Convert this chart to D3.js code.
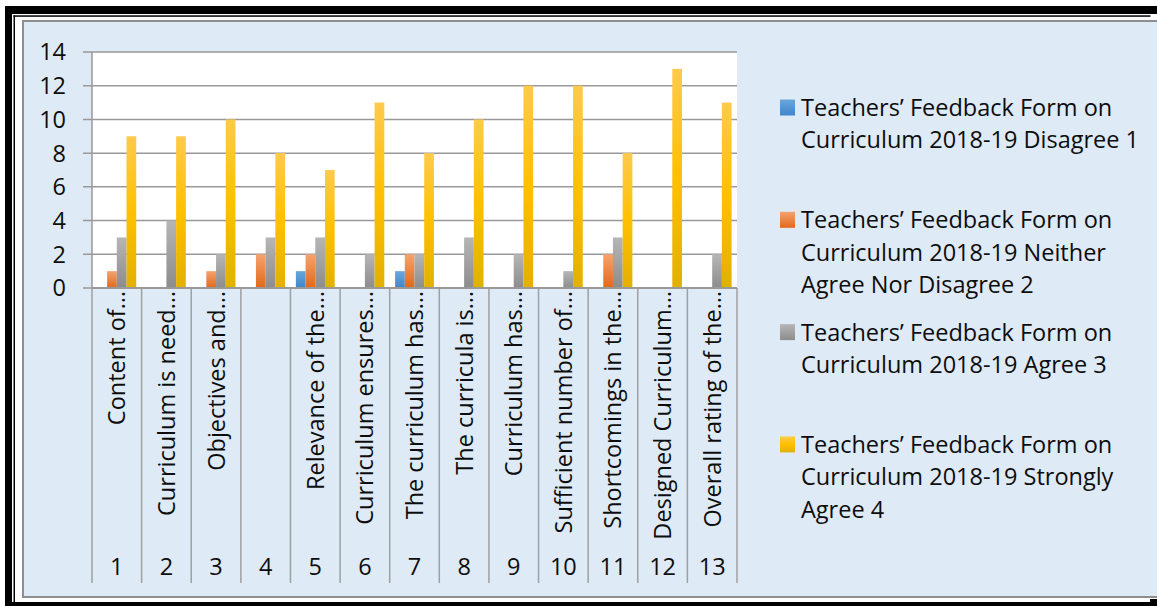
<!DOCTYPE html>
<html><head><meta charset="utf-8">
<script src="https://cdn.jsdelivr.net/npm/d3@7"></script>
<style>
body{margin:0;background:#fff;}
svg{display:block;}
text{font-family:"Open Sans",sans-serif;fill:#0d0d0d;}
</style>
</head><body>
<svg id="c" width="1157" height="606"></svg>
<script>
const categories = ["1","2","3","4","5","6","7","8","9","10","11","12","13"];
const categoryLabels = ["Content of…","Curriculum is need…","Objectives and…","","Relevance of the…","Curriculum ensures…","The curriculum has…","The curricula is…","Curriculum has…","Sufficient number of…","Shortcomings in the…","Designed Curriculum…","Overall rating of the…"];
const seriesNames = [
  "Teachers’ Feedback Form on Curriculum 2018-19 Disagree 1",
  "Teachers’ Feedback Form on Curriculum 2018-19 Neither Agree Nor Disagree 2",
  "Teachers’ Feedback Form on Curriculum 2018-19 Agree 3",
  "Teachers’ Feedback Form on Curriculum 2018-19 Strongly Agree 4"
];
const disagree      = [0,0,0,0,1,0,1,0,0,0,0,0,0];
const neither       = [1,0,1,2,2,0,2,0,0,0,2,0,0];
const agree         = [3,4,2,3,3,2,2,3,2,1,3,0,2];
const stronglyAgree = [9,9,10,8,7,11,8,10,12,12,8,13,11];
const yTicks = [0,2,4,6,8,10,12,14];

const seriesValues = [disagree, neither, agree, stronglyAgree];
const gradStops = [
  [["0%","#6aa6dd"],["100%","#3e86ca"]],
  [["0%","#f5a36f"],["100%","#e2681a"]],
  [["0%","#b6b6b6"],["100%","#8c8c8c"]],
  [["0%","#ffca4d"],["50%","#ffc000"],["100%","#e2b000"]]
];
const FS = 23.5;

const svg = d3.select("#c");
const defs = svg.append("defs");
gradStops.forEach((st,i)=>{
  const g = defs.append("linearGradient").attr("id","g"+i).attr("x1",0).attr("y1",0).attr("x2",0).attr("y2",1);
  st.forEach(s=>g.append("stop").attr("offset",s[0]).attr("stop-color",s[1]));
});

// outer frame
svg.append("rect").attr("x",5).attr("y",6).attr("width",7).attr("height",600).attr("fill","#000");
svg.append("rect").attr("x",5).attr("y",6).attr("width",1152).attr("height",8).attr("fill","#000");
svg.append("rect").attr("x",5).attr("y",602).attr("width",1152).attr("height",4).attr("fill","#000");
svg.append("rect").attr("x",1150).attr("y",599).attr("width",7).attr("height",7).attr("fill","#000");
svg.append("rect").attr("x",13.5).attr("y",15.3).attr("width",1.5).attr("height",587).attr("fill","#000");
svg.append("rect").attr("x",13.5).attr("y",15.3).attr("width",1137).attr("height",1.5).attr("fill","#000");

// chart area
svg.append("rect").attr("x",23).attr("y",21).attr("width",1150).attr("height",576)
  .attr("fill","#deeaf6").attr("stroke","#8e8e8e").attr("stroke-width",2);

const L=92, R=737, T=52, B=288;
const x = d3.scaleBand().domain(categories).range([L,R]).padding(0);
const bw = x.bandwidth();
const xs = d3.scaleBand().domain(d3.range(4)).range([5.4, bw-5.4]).padding(0);
const y = d3.scaleLinear().domain([0,14]).range([B,T]);

svg.append("rect").attr("x",L).attr("y",T).attr("width",R-L).attr("height",B-T).attr("fill","#fff");

// gridlines
svg.append("g").selectAll("line").data(yTicks).join("line")
  .attr("x1",L-9).attr("x2",R).attr("y1",d=>y(d)).attr("y2",d=>y(d))
  .attr("stroke","#999").attr("stroke-width",1.5);
// y axis line
svg.append("line").attr("x1",L).attr("x2",L).attr("y1",T).attr("y2",B).attr("stroke","#999").attr("stroke-width",1.5);

// y labels
svg.append("g").selectAll("text").data(yTicks).join("text")
  .attr("x",66).attr("y",d=>y(d)).attr("dy","0.36em").attr("text-anchor","end")
  .style("font-size",FS+"px").text(d=>d);

// bars
seriesValues.forEach((vals,si)=>{
  svg.append("g").selectAll("rect").data(vals.map((v,i)=>({v,c:categories[i]})).filter(d=>d.v>0)).join("rect")
    .attr("x",d=>x(d.c)+xs(si)).attr("width",xs.bandwidth())
    .attr("y",d=>y(d.v)).attr("height",d=>y(0)-y(d.v))
    .attr("fill","url(#g"+si+")");
});

// category separators
const bounds = categories.map(c=>x(c)).concat([R]);
svg.append("g").selectAll("line").data(bounds).join("line")
  .attr("x1",d=>d).attr("x2",d=>d).attr("y1",B).attr("y2",583)
  .attr("stroke","#a0a0a0").attr("stroke-width",1.5);
svg.append("line").attr("x1",L).attr("x2",R).attr("y1",B).attr("y2",B).attr("stroke","#999").attr("stroke-width",2);

// category labels (rotated)
svg.append("g").selectAll("text").data(categories).join("text")
  .attr("transform",(c,i)=>`translate(${x(c)+bw/2},291) rotate(-90)`)
  .attr("dy","0.36em").attr("text-anchor","end")
  .style("font-size",FS+"px").text((c,i)=>categoryLabels[i]);

// number labels
svg.append("g").selectAll("text").data(categories).join("text")
  .attr("x",c=>x(c)+bw/2).attr("y",567).attr("dy","0.36em").attr("text-anchor","middle")
  .style("font-size",FS+"px").text(c=>c);

// legend
const legX = 780, legTop = 116, legStep = 112.3, lineH = 32.3, maxW = 356;
seriesNames.forEach((name,i)=>{
  const by = legTop + i*legStep;
  svg.append("rect").attr("x",legX).attr("y",by-16.5).attr("width",15).attr("height",16).attr("fill","url(#g"+i+")");
  const t = svg.append("text").attr("x",legX+21).attr("y",by).style("font-size",FS+"px");
  const words = name.split(" ");
  let line = [], ln = 0;
  let ts = t.append("tspan").attr("x",legX+21).attr("y",by);
  words.forEach(w=>{
    line.push(w);
    ts.text(line.join(" "));
    if (ts.node().getComputedTextLength() > maxW && line.length>1){
      line.pop(); ts.text(line.join(" "));
      line=[w]; ln++;
      ts = t.append("tspan").attr("x",legX+21).attr("y",by+ln*lineH).text(w);
    }
  });
});
</script>
</body></html>
